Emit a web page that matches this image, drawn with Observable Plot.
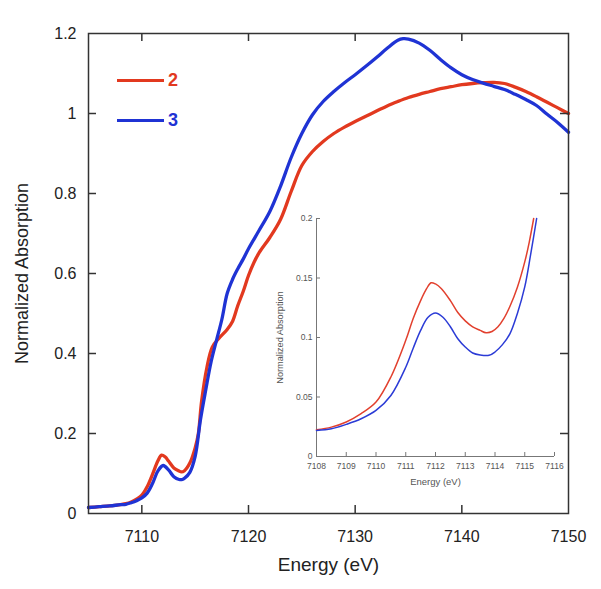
<!DOCTYPE html>
<html><head><meta charset="utf-8">
<script src="https://cdn.jsdelivr.net/npm/d3@7"></script>
<script src="https://cdn.jsdelivr.net/npm/@observablehq/plot@0.6"></script>
<style>
html,body{margin:0;padding:0;background:#fff;}
#wrap{position:relative;width:601px;height:589px;font-family:"Liberation Sans",Arial,sans-serif;}
#inset{position:absolute;left:255px;top:205px;}
.legline{position:absolute;height:3px;}
.leglab{position:absolute;font-weight:bold;font-size:18px;line-height:18px;}
</style></head><body><div id="wrap"></div>
<script>
// ---- data ----
const seriesNames = ["2", "3"];
const seriesColors = ["#e2391f", "#1f33d4"];
const insetColors = ["#e2402e", "#2b3bd6"];

const redE = [7105,7106,7107,7108,7108.5,7109,7109.5,7110,7110.5,7111,7111.5,7111.85,7112.2,7112.5,7113,7113.5,7113.7,7114,7114.5,7115,7115.3,7115.6,7116.1,7116.6,7117.2,7118,7118.5,7119,7119.5,7120,7120.5,7121,7122,7123,7124,7125,7126,7127,7128,7129,7130,7131,7132,7133,7134,7135,7136,7137,7138,7139,7140,7141,7142,7143,7144,7145,7146,7147,7148,7149,7150];
const redV = [0.015,0.017,0.019,0.0224,0.0247,0.029,0.036,0.0457,0.067,0.098,0.131,0.146,0.141,0.131,0.114,0.106,0.104,0.107,0.126,0.164,0.2,0.28,0.365,0.416,0.437,0.46,0.48,0.52,0.555,0.595,0.627,0.652,0.69,0.735,0.805,0.87,0.905,0.93,0.95,0.966,0.98,0.993,1.006,1.019,1.03,1.04,1.048,1.055,1.062,1.067,1.072,1.075,1.077,1.078,1.075,1.066,1.055,1.042,1.028,1.014,1.0];

const blueE = [7105,7106,7107,7108,7108.5,7109,7109.5,7110,7110.5,7111,7111.5,7112,7112.5,7113,7113.5,7113.8,7114,7114.5,7115,7115.5,7116,7116.5,7117,7117.5,7118,7118.5,7119,7119.5,7120,7121,7122,7123,7124,7125,7126,7127,7128,7129,7130,7131,7132,7133,7134,7134.5,7135,7136,7137,7138,7139,7140,7141,7142,7143,7144,7145,7146,7147,7148,7149,7150];
const blueV = [0.015,0.017,0.019,0.022,0.023,0.027,0.032,0.039,0.051,0.075,0.106,0.12,0.109,0.092,0.085,0.085,0.088,0.103,0.143,0.235,0.31,0.38,0.433,0.485,0.55,0.585,0.612,0.636,0.662,0.708,0.755,0.818,0.89,0.95,0.997,1.03,1.055,1.077,1.097,1.118,1.14,1.163,1.183,1.187,1.186,1.176,1.158,1.135,1.114,1.097,1.085,1.076,1.068,1.06,1.048,1.035,1.02,0.998,0.977,0.953];

const insetRedE = [7108,7108.5,7109,7109.5,7110,7110.5,7111,7111.25,7111.5,7111.7,7111.85,7112,7112.2,7112.5,7112.75,7113,7113.25,7113.5,7113.7,7113.9,7114.1,7114.3,7114.5,7114.75,7115,7115.15,7115.3];
const insetRedV = [0.0224,0.0247,0.029,0.036,0.0457,0.0668,0.0976,0.116,0.131,0.141,0.146,0.145,0.141,0.131,0.121,0.114,0.109,0.106,0.104,0.105,0.109,0.116,0.126,0.142,0.1635,0.18,0.2];
const insetBlueE = [7108,7108.5,7109,7109.5,7110,7110.5,7111,7111.25,7111.5,7111.75,7112,7112.25,7112.5,7112.75,7113,7113.25,7113.5,7113.8,7114,7114.25,7114.5,7114.75,7115,7115.2,7115.4];
const insetBlueV = [0.0219,0.0233,0.027,0.0317,0.0387,0.0513,0.075,0.091,0.106,0.117,0.1206,0.117,0.109,0.099,0.092,0.087,0.0853,0.085,0.0878,0.094,0.103,0.12,0.1425,0.17,0.2];

const xDomain = [7105, 7150];
const yDomain = [0, 1.2];
const xTickLabels = [7110, 7120, 7130, 7140, 7150];
const xTickMarks = [7110, 7120, 7130, 7140];
const yTickLabels = [0, 0.2, 0.4, 0.6, 0.8, 1, 1.2];
const yTickMarks = [0.2, 0.4, 0.6, 0.8, 1];
const xTitle = "Energy (eV)";
const yTitle = "Normalized Absorption";

const insetXDomain = [7108, 7116];
const insetYDomain = [0, 0.2];
const insetXTicks = [7108, 7109, 7110, 7111, 7112, 7113, 7114, 7115, 7116];
const insetYTicks = [0, 0.05, 0.1, 0.15, 0.2];

// ---- build ----
const font = '"Liberation Sans", Arial, sans-serif';
const zip = (E, V) => E.map((e, i) => ({e, v: V[i]}));
const red = zip(redE, redV), blue = zip(blueE, blueV);
const ired = zip(insetRedE, insetRedV), iblue = zip(insetBlueE, insetBlueV);

const W = 601, H = 589, mL = 88, mR = 33, mT = 33, mB = 76;
const iw = W - mL - mR, ih = H - mT - mB, tk = 8;
const axisCol = "#333";

const main = Plot.plot({
  width: W, height: H, marginLeft: mL, marginRight: mR, marginTop: mT, marginBottom: mB,
  x: {domain: xDomain}, y: {domain: yDomain},
  style: {fontFamily: font, fontSize: "16px", color: "#222", background: "transparent", overflow: "visible"},
  marks: [
    Plot.line(red, {x: "e", y: "v", stroke: seriesColors[0], strokeWidth: 3.3, curve: "catmull-rom"}),
    Plot.line(blue, {x: "e", y: "v", stroke: seriesColors[1], strokeWidth: 3.3, curve: "catmull-rom"}),
    Plot.frame({stroke: axisCol, strokeWidth: 1.5}),
    Plot.ruleX(xTickMarks, {insetTop: ih - tk, stroke: axisCol, strokeWidth: 1.5}),
    Plot.ruleX(xTickMarks, {insetBottom: ih - tk, stroke: axisCol, strokeWidth: 1.5}),
    Plot.ruleY(yTickMarks, {insetRight: iw - tk, stroke: axisCol, strokeWidth: 1.5}),
    Plot.ruleY(yTickMarks, {insetLeft: iw - tk, stroke: axisCol, strokeWidth: 1.5}),
    Plot.axisX({ticks: xTickLabels, tickSize: 0, tickPadding: 17, tickFormat: d => String(d), label: null, fontSize: 16}),
    Plot.axisY({ticks: yTickLabels, tickSize: 0, tickPadding: 12, tickFormat: d => String(d), label: null, fontSize: 16}),
    Plot.text([xTitle], {frameAnchor: "bottom", lineAnchor: "middle", textAnchor: "middle", dy: 51, fontSize: 19, fill: "#222"}),
    Plot.text([yTitle], {frameAnchor: "left", lineAnchor: "middle", textAnchor: "middle", rotate: -90, dx: -66, fontSize: 18, fill: "#222"})
  ]
});

const IW = 312, IH = 293, imL = 61, imR = 13, imT = 13, imB = 42;
const iiw = IW - imL - imR, iih = IH - imT - imB, itk = 4;
const icol = "#777";
const inset = Plot.plot({
  width: IW, height: IH, marginLeft: imL, marginRight: imR, marginTop: imT, marginBottom: imB,
  x: {domain: insetXDomain}, y: {domain: insetYDomain},
  style: {fontFamily: font, fontSize: "8.5px", color: "#555", background: "transparent", overflow: "visible"},
  marks: [
    Plot.ruleX([insetXDomain[0]], {stroke: icol, strokeWidth: 1}),
    Plot.ruleY([insetYDomain[0]], {stroke: icol, strokeWidth: 1}),
    Plot.ruleX(insetXTicks, {insetTop: iih - itk, stroke: icol, strokeWidth: 1}),
    Plot.ruleY(insetYTicks, {insetRight: iiw - itk, stroke: icol, strokeWidth: 1}),
    Plot.line(ired, {x: "e", y: "v", stroke: insetColors[0], strokeWidth: 1.5, curve: "catmull-rom"}),
    Plot.line(iblue, {x: "e", y: "v", stroke: insetColors[1], strokeWidth: 1.5, curve: "catmull-rom"}),
    Plot.axisX({ticks: insetXTicks, tickSize: 0, tickPadding: 6, tickFormat: d => String(d), label: null, fontSize: 8.5}),
    Plot.axisY({ticks: insetYTicks, tickSize: 0, tickPadding: 4, tickFormat: d => String(d), label: null, fontSize: 8.5}),
    Plot.text([xTitle], {frameAnchor: "bottom", lineAnchor: "middle", textAnchor: "middle", dy: 25, fontSize: 9.5, fill: "#555"}),
    Plot.text([yTitle], {frameAnchor: "left", lineAnchor: "middle", textAnchor: "middle", rotate: -90, dx: -36, fontSize: 9.2, fill: "#555"})
  ]
});
inset.id = "inset";

const wrap = document.getElementById("wrap");
wrap.appendChild(main);
wrap.appendChild(inset);

// legend
const legY = [80, 120];
seriesNames.forEach((name, i) => {
  const ln = document.createElement("div");
  ln.className = "legline";
  ln.style.left = "117px"; ln.style.width = "47px";
  ln.style.top = (legY[i] - 1.5) + "px";
  ln.style.background = seriesColors[i];
  wrap.appendChild(ln);
  const lb = document.createElement("div");
  lb.className = "leglab";
  lb.textContent = name;
  lb.style.left = "168px"; lb.style.top = (legY[i] - 9) + "px";
  lb.style.color = seriesColors[i];
  wrap.appendChild(lb);
});
</script></body></html>
